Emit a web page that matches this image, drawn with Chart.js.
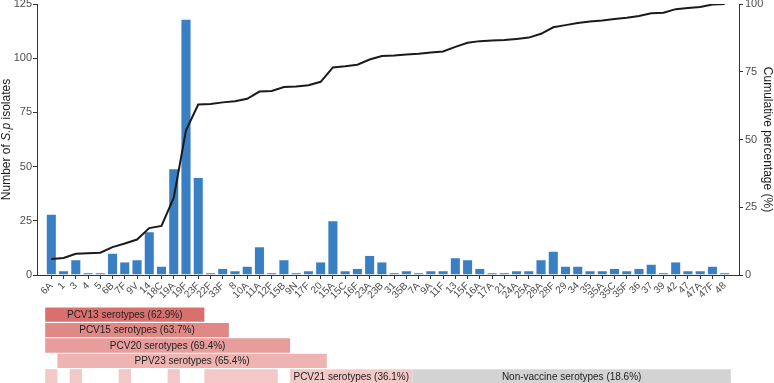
<!DOCTYPE html>
<html lang="en">
<head>
    <meta charset="UTF-8">
    <title>S.p isolates by serotype</title>
    <script src="https://cdn.jsdelivr.net/npm/chart.js"></script>
    <style>
        body {
            margin: 0;
            background: #fff;
            font-family: 'Liberation Sans', Arial, sans-serif;
        }
        .wrap {
            position: relative;
            width: 774px;
            height: 383px;
            overflow: hidden;
        }
        #mainChart {
            position: absolute;
            left: 0;
            top: 0;
        }
        #bandChart {
            position: absolute;
            left: 0;
            top: 307px;
        }
    </style>
</head>
<body>
    <div class="wrap">
        <canvas id="mainChart" width="774" height="305"></canvas>
        <canvas id="bandChart" width="774" height="77"></canvas>
    </div>

    <script>
        // serotypes in plot order
        const serotypes = ['6A', '1', '3', '4', '5', '6B', '7F', '9V', '14', '18C', '19A', '19F', '23F',
            '22F', '33F', '8', '10A', '11A', '12F', '15B', '9N', '17F', '20', '15A', '15C', '16F',
            '23A', '23B', '31', '35B', '7A', '9A', '11F', '13', '15F', '16A', '17A', '21', '24A',
            '25A', '28A', '28F', '29', '34', '35', '35A', '35C', '35F', '36', '37', '39', '42',
            '47', '47A', '47F', '48'];

        // number of isolates per serotype
        const isolates = [28, 2, 7, 1, 1, 10, 6, 7, 20, 4, 49, 118, 45,
            1, 3, 2, 4, 13, 1, 7, 1, 2, 6, 25, 2, 3,
            9, 6, 1, 2, 1, 2, 2, 8, 7, 3, 1, 1, 2,
            2, 7, 11, 4, 4, 2, 2, 3, 2, 3, 5, 1, 6,
            2, 2, 4, 1];

        // cumulative percentage (%)
        const cumulativePct = [5.9, 6.3, 7.8, 8.0, 8.2, 10.3, 11.6, 13.1, 17.3, 18.1, 28.5, 53.4, 62.9,
            63.1, 63.7, 64.1, 65.0, 67.7, 67.9, 69.4, 69.6, 70.0, 71.3, 76.6, 77.0, 77.6,
            79.5, 80.8, 81.0, 81.4, 81.6, 82.1, 82.5, 84.2, 85.7, 86.3, 86.5, 86.7, 87.1,
            87.6, 89.0, 91.4, 92.2, 93.0, 93.5, 93.9, 94.5, 94.9, 95.6, 96.6, 96.8, 98.1,
            98.5, 98.9, 99.8, 100.0];

        const leftTicks = [0, 25, 50, 75, 100, 125];
        const rightTicks = [0, 25, 50, 75, 100];

        // vaccine coverage bands: row, first serotype, last serotype, group, label
        const bandRows = ['PCV13', 'PCV15', 'PCV20', 'PPV23', 'PCV21'];
        const bandSegments = [
            ['PCV13', '6A', '23F', 'PCV13', 'PCV13 serotypes (62.9%)'],
            ['PCV15', '6A', '33F', 'PCV15', 'PCV15 serotypes (63.7%)'],
            ['PCV20', '6A', '15B', 'PCV20', 'PCV20 serotypes (69.4%)'],
            ['PPV23', '1', '20', 'PPV23', 'PPV23 serotypes (65.4%)'],
            ['PCV21', '6A', '6A', 'PCV21', ''],
            ['PCV21', '3', '3', 'PCV21', ''],
            ['PCV21', '7F', '7F', 'PCV21', ''],
            ['PCV21', '19A', '19A', 'PCV21', ''],
            ['PCV21', '22F', '12F', 'PCV21', ''],
            ['PCV21', '9N', '35B', 'PCV21', 'PCV21 serotypes (36.1%)'],
            ['PCV21', '7A', '48', 'NV', 'Non-vaccine serotypes (18.6%)']
        ];
        const bandColors = {
            PCV13: '#d9706e',
            PCV15: '#e08886',
            PCV20: '#e69d9b',
            PPV23: '#eeb4b2',
            PCV21: '#f3c9c8',
            NV: '#d3d3d3'
        };

        const FONT = "'Liberation Sans', Arial, sans-serif";
        const X_MIN = -1.17;
        const X_MAX = 56.17;
        const AXIS = '#333333';
        const TICK_TEXT = '#4d4d4d';

        // stop label overhang from moving the plot area
        function noPadding(scale) {
            scale.paddingLeft = 0;
            scale.paddingRight = 0;
            scale.paddingTop = 0;
            scale.paddingBottom = 0;
        }

        // axis titles (left one has italic S.p)
        const axisTitles = {
            id: 'axisTitles',
            afterDraw(chart) {
                const ctx = chart.ctx;
                const area = chart.chartArea;
                const midY = (area.top + area.bottom) / 2;
                ctx.save();
                const parts = [['Number of ', 'normal'], ['S.p', 'italic'], [' isolates', 'normal']];
                let total = 0;
                parts.forEach(p => {
                    ctx.font = p[1] + ' 12px ' + FONT;
                    total += ctx.measureText(p[0]).width;
                });
                ctx.translate(7, midY);
                ctx.rotate(-Math.PI / 2);
                ctx.fillStyle = '#1a1a1a';
                ctx.textBaseline = 'middle';
                let x = -total / 2;
                parts.forEach(p => {
                    ctx.font = p[1] + ' 12px ' + FONT;
                    ctx.fillText(p[0], x, 0);
                    x += ctx.measureText(p[0]).width;
                });
                ctx.restore();

                ctx.save();
                ctx.translate(767, midY);
                ctx.rotate(Math.PI / 2);
                ctx.font = '12px ' + FONT;
                ctx.fillStyle = '#1a1a1a';
                ctx.textAlign = 'center';
                ctx.textBaseline = 'middle';
                ctx.fillText('Cumulative percentage (%)', 0, 0);
                ctx.restore();
            }
        };

        new Chart(document.getElementById('mainChart'), {
            data: {
                datasets: [{
                    type: 'line',
                    data: serotypes.map((s, i) => ({ x: i, y: cumulativePct[i] })),
                    yAxisID: 'y2',
                    borderColor: '#1a1a1a',
                    borderWidth: 2,
                    pointRadius: 0,
                    tension: 0,
                    order: 0
                }, {
                    type: 'bar',
                    data: serotypes.map((s, i) => ({ x: i, y: isolates[i] })),
                    yAxisID: 'y',
                    backgroundColor: '#3a7fc4',
                    borderColor: 'rgba(190, 215, 240, 0.6)',
                    borderWidth: 0.5,
                    barPercentage: 0.82,
                    categoryPercentage: 1,
                    order: 1
                }]
            },
            options: {
                responsive: false,
                animation: false,
                layout: { padding: { top: 4, left: 0, right: 0, bottom: 0 } },
                plugins: {
                    legend: { display: false },
                    tooltip: { enabled: false }
                },
                scales: {
                    x: {
                        type: 'linear',
                        offset: false,
                        min: X_MIN,
                        max: X_MAX,
                        afterBuildTicks(scale) {
                            scale.ticks = serotypes.map((s, i) => ({ value: i }));
                        },
                        afterFit(scale) {
                            scale.height = 30;
                            noPadding(scale);
                        },
                        ticks: {
                            autoSkip: false,
                            minRotation: 45,
                            maxRotation: 45,
                            padding: 1,
                            color: TICK_TEXT,
                            font: { family: FONT, size: 10 },
                            callback: v => serotypes[v]
                        },
                        grid: {
                            offset: false,
                            drawOnChartArea: false,
                            tickLength: 4,
                            color: AXIS
                        },
                        border: { color: AXIS, width: 1 }
                    },
                    y: {
                        position: 'left',
                        min: 0,
                        max: 125,
                        afterBuildTicks(scale) {
                            scale.ticks = leftTicks.map(v => ({ value: v }));
                        },
                        afterFit(scale) {
                            scale.width = 37;
                            noPadding(scale);
                        },
                        ticks: {
                            padding: 1,
                            color: TICK_TEXT,
                            font: { family: FONT, size: 11 }
                        },
                        grid: {
                            drawOnChartArea: false,
                            tickLength: 4,
                            color: AXIS
                        },
                        border: { color: AXIS, width: 1 }
                    },
                    y2: {
                        position: 'right',
                        min: 0,
                        max: 100,
                        afterBuildTicks(scale) {
                            scale.ticks = rightTicks.map(v => ({ value: v }));
                        },
                        afterFit(scale) {
                            scale.width = 35;
                            noPadding(scale);
                        },
                        ticks: {
                            padding: 2,
                            color: TICK_TEXT,
                            font: { family: FONT, size: 11 }
                        },
                        grid: {
                            drawOnChartArea: false,
                            tickLength: 4,
                            color: AXIS
                        },
                        border: { color: AXIS, width: 1 }
                    }
                }
            },
            plugins: [axisTitles]
        });

        // text inside the coverage bands
        const bandText = {
            id: 'bandText',
            afterDatasetsDraw(chart) {
                const ctx = chart.ctx;
                const meta = chart.getDatasetMeta(0);
                ctx.save();
                ctx.font = '10px ' + FONT;
                ctx.fillStyle = '#222';
                ctx.textAlign = 'center';
                ctx.textBaseline = 'middle';
                bandSegments.forEach((seg, i) => {
                    if (!seg[4]) return;
                    const el = meta.data[i];
                    ctx.fillText(seg[4], (el.x + el.base) / 2, el.y + 0.5);
                });
                ctx.restore();
            }
        };

        new Chart(document.getElementById('bandChart'), {
            type: 'bar',
            data: {
                labels: bandRows,
                datasets: [{
                    data: bandSegments.map(seg => ({
                        y: seg[0],
                        x: [serotypes.indexOf(seg[1]) - 0.5, serotypes.indexOf(seg[2]) + 0.5]
                    })),
                    backgroundColor: bandSegments.map(seg => bandColors[seg[3]]),
                    borderWidth: 0,
                    barPercentage: 0.93,
                    categoryPercentage: 1,
                    grouped: false
                }]
            },
            options: {
                indexAxis: 'y',
                responsive: false,
                animation: false,
                layout: { padding: { left: 37, right: 35, top: 0, bottom: 0 } },
                plugins: {
                    legend: { display: false },
                    tooltip: { enabled: false }
                },
                scales: {
                    x: { type: 'linear', offset: false, min: X_MIN, max: X_MAX, display: false },
                    y: { type: 'category', display: false }
                }
            },
            plugins: [bandText]
        });
    </script>
</body>
</html>
